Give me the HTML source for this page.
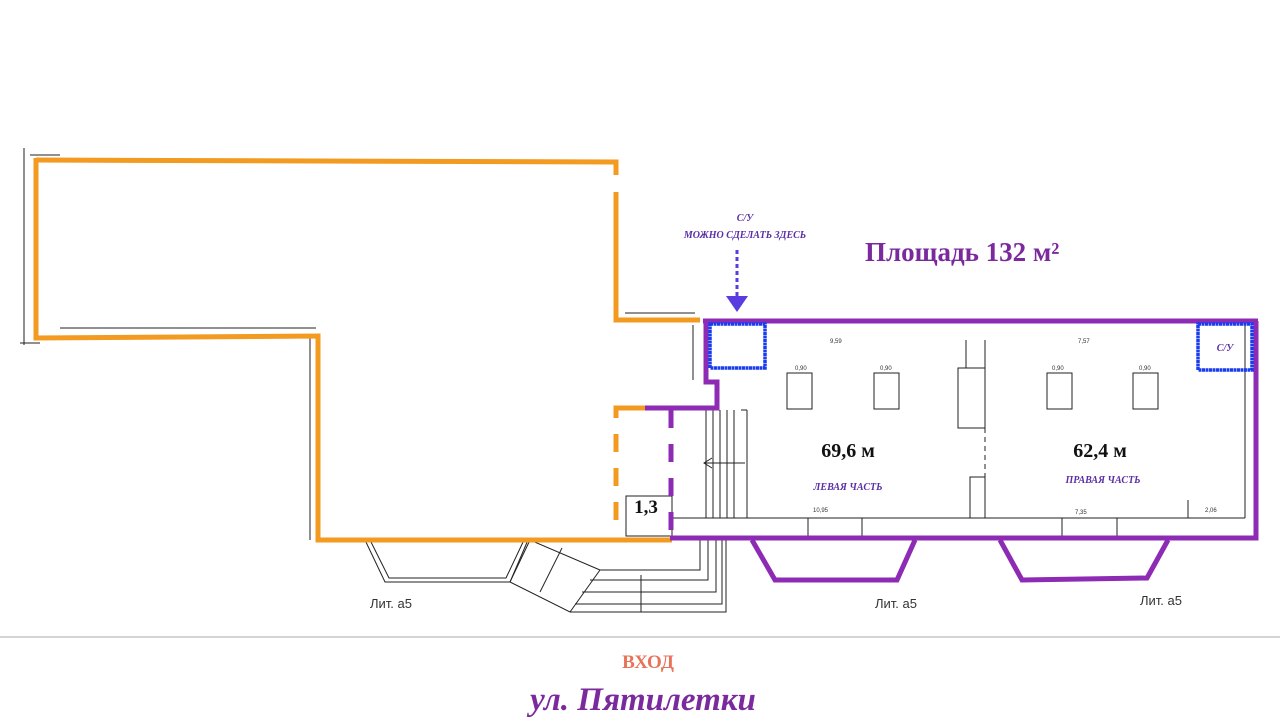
<!DOCTYPE html>
<html><head><meta charset="utf-8"><style>
html,body{margin:0;padding:0;background:#fff;width:1280px;height:725px;overflow:hidden}
svg{display:block}
.t{font-family:"Liberation Serif",serif}
</style></head><body>
<svg width="1280" height="725" viewBox="0 0 1280 725" xmlns="http://www.w3.org/2000/svg">
<g stroke="#222" stroke-width="1" fill="none">
 <line x1="24" y1="148" x2="24" y2="345"/><line x1="20" y1="343" x2="40" y2="343"/>
 <line x1="30" y1="155" x2="60" y2="155"/>
 <line x1="60" y1="328" x2="316" y2="328"/>
 <line x1="310" y1="336" x2="310" y2="540"/>
 <line x1="625" y1="313" x2="695" y2="313"/>
 <line x1="693" y1="325" x2="693" y2="380"/>
 <polyline points="365,540 385,582 510,582 528,540"/>
 <polyline points="370,540 389,578 506,578 524,540"/>
 <polygon points="530,540 510,582 570,612 600,570"/>
 <line x1="562" y1="548" x2="540" y2="592"/>
 <polyline points="600,570 700,570 700,540"/>
 <polyline points="590,580 708,580 708,540"/>
 <polyline points="582,592 716,592 716,540"/>
 <polyline points="575,604 722,604 722,540"/>
 <polyline points="570,612 726,612 726,540"/>
 <line x1="641" y1="575" x2="641" y2="612"/>
 <rect x="626" y="496" width="46" height="40"/>
 <line x1="706" y1="410" x2="706" y2="518"/>
 <line x1="713" y1="410" x2="713" y2="518"/>
 <line x1="720" y1="410" x2="720" y2="518"/>
 <line x1="727" y1="410" x2="727" y2="518"/>
 <line x1="734" y1="410" x2="734" y2="518"/>
 <line x1="741" y1="410" x2="747" y2="410"/><line x1="747" y1="410" x2="747" y2="518"/>
 <line x1="704" y1="463" x2="745" y2="463"/>
 <polyline points="712,458 704,463 712,468"/>
 <line x1="672" y1="518" x2="1245" y2="518"/>
 <line x1="1245" y1="325" x2="1245" y2="518"/>
 <line x1="808" y1="518" x2="808" y2="536"/><line x1="862" y1="518" x2="862" y2="536"/>
 <line x1="1062" y1="518" x2="1062" y2="536"/><line x1="1117" y1="518" x2="1117" y2="536"/>
 <rect x="787" y="373" width="25" height="36"/><rect x="874" y="373" width="25" height="36"/>
 <rect x="1047" y="373" width="25" height="36"/><rect x="1133" y="373" width="25" height="36"/>
 <rect x="958" y="368" width="27" height="60"/>
 <line x1="966" y1="340" x2="966" y2="368"/><line x1="985" y1="340" x2="985" y2="368"/>
 <line x1="985" y1="428" x2="985" y2="518" stroke-dasharray="5,4"/>
 <rect x="970" y="477" width="15" height="41"/>
 <line x1="1188" y1="500" x2="1188" y2="518"/>
</g>
<g fill="none" stroke-linejoin="miter">
 <path d="M36,160 L616,162 L616,175 M616,192 L616,320 L700,320" stroke="#f39a21" stroke-width="5"/>
 <path d="M36,158 L36,338 L318,336 L318,540 L672,540" stroke="#f39a21" stroke-width="5"/>
 <path d="M616,520 L616,408 L645,408" stroke="#f39a21" stroke-width="5" stroke-dasharray="18,16" />
 <path d="M616,408 L645,408" stroke="#f39a21" stroke-width="5"/>
 <path d="M703,321 L1258,321 M1256,321 L1256,538 L670,538 M706,321 L706,382 L717,382 L717,408 L645,408" stroke="#8e2bb5" stroke-width="5"/>
 <path d="M671,410 L671,538" stroke="#8e2bb5" stroke-width="5" stroke-dasharray="18,16"/>
 <polyline points="752,540 775,580 897,580 915,540" stroke="#8e2bb5" stroke-width="5"/>
 <polyline points="1000,540 1022,580 1147,578 1168,540" stroke="#8e2bb5" stroke-width="5"/>
 <rect x="710" y="324" width="55" height="44" stroke="#1a3cf0" stroke-width="3.5" stroke-dasharray="3,0.5"/>
 <rect x="1198" y="324" width="54" height="46" stroke="#1a3cf0" stroke-width="3.5" stroke-dasharray="3,0.5"/>
</g>
<line x1="737" y1="250" x2="737" y2="300" stroke="#5a3be0" stroke-width="3" stroke-dasharray="4,3"/>
<polygon points="726,296 748,296 737,312" fill="#5a3be0"/>
<line x1="0" y1="637" x2="1280" y2="637" stroke="#aaa" stroke-width="1"/>
<g class="t">
 <text x="745" y="221" font-size="10" font-style="italic" font-weight="bold" fill="#5b2ea6" text-anchor="middle">С/У</text>
 <text x="745" y="238" font-size="10" font-style="italic" font-weight="bold" fill="#5b2ea6" text-anchor="middle">МОЖНО СДЕЛАТЬ ЗДЕСЬ</text>
 <text x="865" y="261" font-size="27" font-weight="bold" fill="#7b2a9e">Площадь 132 м²</text>
 <text x="1225" y="351" font-size="10" font-style="italic" font-weight="bold" fill="#5b2ea6" text-anchor="middle">С/У</text>
 <text x="848" y="457" font-size="20" font-weight="bold" fill="#111" text-anchor="middle">69,6 м</text>
 <text x="1100" y="457" font-size="20" font-weight="bold" fill="#111" text-anchor="middle">62,4 м</text>
 <text x="848" y="490" font-size="10" font-style="italic" font-weight="bold" fill="#5b2ea6" text-anchor="middle">ЛЕВАЯ ЧАСТЬ</text>
 <text x="1103" y="483" font-size="10" font-style="italic" font-weight="bold" fill="#5b2ea6" text-anchor="middle">ПРАВАЯ ЧАСТЬ</text>
 <text x="646" y="513" font-size="19" font-weight="bold" fill="#111" text-anchor="middle">1,3</text>
 <text x="648" y="668" font-size="19" font-weight="bold" fill="#e8735a" text-anchor="middle">ВХОД</text>
 <text x="643" y="710" font-size="33" font-style="italic" font-weight="bold" fill="#7b2a9e" text-anchor="middle">ул. Пятилетки</text>
</g>
<g font-family="Liberation Sans Narrow,Liberation Sans,sans-serif" font-size="13" fill="#333">
 <text x="370" y="608">Лит. а5</text><text x="875" y="608">Лит. а5</text><text x="1140" y="605">Лит. а5</text>
</g>
<g font-family="Liberation Sans,sans-serif" font-size="6" fill="#333">
 <text x="830" y="343">9,59</text><text x="1078" y="343">7,57</text>
 <text x="795" y="370">0,90</text><text x="880" y="370">0,90</text><text x="1052" y="370">0,90</text><text x="1139" y="370">0,90</text>
 <text x="813" y="512">10,95</text><text x="1075" y="514">7,35</text><text x="1205" y="512">2,06</text>
</g>
</svg>
</body></html>
